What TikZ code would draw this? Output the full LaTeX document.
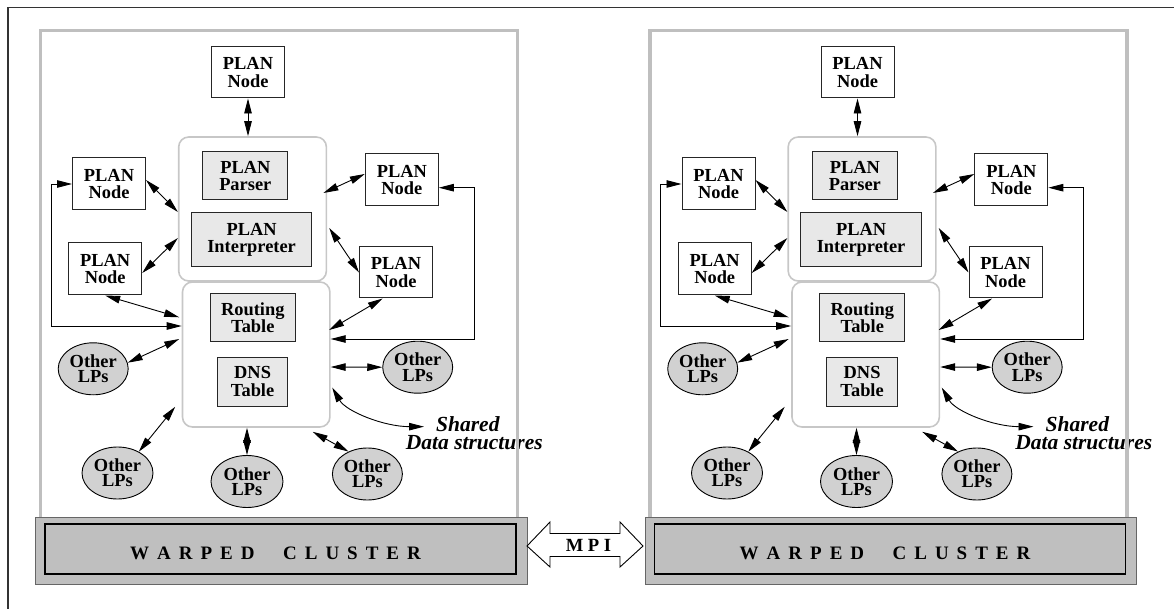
\documentclass[tikz,border=0pt]{standalone}
\usepackage{fontspec}
\setmainfont{Liberation Serif}
\usetikzlibrary{arrows.meta,shapes.geometric}

% fonts used by the different kinds of labels
\newcommand\nodefont{\fontsize{18.4}{17.3}\selectfont\bfseries}
\newcommand\lpfont{\fontsize{18.4}{15.4}\selectfont\bfseries}
\newcommand\sdfont{\fontsize{21.5}{21.5}\selectfont\bfseries\itshape}
\newcommand\wfont{\fontsize{19}{19}\selectfont\bfseries}
\newcommand\mpifont{\fontsize{18.6}{18.6}\selectfont\bfseries}
% letter-spaced cluster title
\newcommand\wcl{W\kern8pt A\kern8pt R\kern8pt P\kern8pt E\kern8pt D\kern28.5pt
  C\kern8pt L\kern8pt U\kern8pt S\kern8pt T\kern8pt E\kern8pt R}

\tikzset{
  plan/.style={draw=black!85, line width=1pt, fill=white, minimum width=73pt,
    minimum height=52pt, inner sep=0pt, align=center, font=\nodefont},
  core/.style={draw=black!85, line width=1pt, fill=black!9, inner sep=0pt,
    align=center, font=\nodefont},
  shared/.style={draw=black!22, line width=1.6pt, rounded corners=10pt, inner sep=0pt},
  lp/.style={ellipse, draw=black, line width=0.9pt, fill=black!18, minimum width=71pt,
    minimum height=52pt, inner sep=0pt, align=center, font=\lpfont},
  link/.style={line width=0.9pt,
    {Triangle[length=15pt,width=7.5pt]}-{Triangle[length=15pt,width=7.5pt]}},
  panelframe/.style={draw=black!25, line width=3.5pt},
  plain/.style={inner sep=0pt, anchor=base west},
}

\begin{document}
\begin{tikzpicture}[x=1pt,y=-1pt]
\useasboundingbox (0,0) rectangle (1174,609);

% outer frame
\draw[line width=1.2pt, black!80] (8,609) -- (8,7.5) -- (1174,7.5);

\foreach \p/\dx in {a/0,b/609.5}{
\begin{scope}[xshift=\dx]
  % shared structures
  \node[shared, minimum width=147.7pt, minimum height=144pt] (ubox\p) at (252.55,209) {};
  \node[shared, minimum width=147.4pt, minimum height=145pt] (lbox\p) at (256.2,354.5) {};
  \node[core, minimum width=85pt, minimum height=48pt] (parser\p) at (245.3,176) {PLAN\\Parser};
  \node[core, minimum width=120.5pt, minimum height=54pt] (interp\p) at (251.6,240) {PLAN\\Interpreter};
  \node[core, minimum width=85pt, minimum height=47pt] (rt\p) at (252.8,317.5) {Routing\\Table};
  \node[core, minimum width=70.4pt, minimum height=49pt] (dns\p) at (252.6,381.5) {DNS\\Table};

  % PLAN nodes
  \node[plan, minimum height=51pt] (top\p) at (248,72.5) {PLAN\\Node};
  \node[plan] (ul\p) at (109,184) {PLAN\\Node};
  \node[plan] (ll\p) at (105.2,269) {PLAN\\Node};
  \node[plan] (ur\p) at (401.8,180) {PLAN\\Node};
  \node[plan, minimum height=51pt] (lr\p) at (396,272.5) {PLAN\\Node};

  % other logical processes
  \node[lp, minimum width=70pt] (lpl\p) at (93.2,368.8) {Other\\LPs};
  \node[lp, minimum width=70pt] (lpr\p) at (417.7,367.2) {Other\\LPs};
  \node[lp] (lpbl\p) at (117.5,473) {Other\\LPs};
  \node[lp, minimum width=72pt] (lpbc\p) at (247,481.5) {Other\\LPs};
  \node[lp, minimum width=70pt] (lpbr\p) at (367.4,474) {Other\\LPs};

  % links to the parser / interpreter
  \draw[link] (top\p.south) -- (top\p.south |- ubox\p.north);
  \draw[link] ([yshift=4]ul\p.east) -- ([yshift=-3]ubox\p.west);
  \draw[link] ([yshift=-4]ll\p.east) -- ([yshift=-29]ubox\p.west);
  \draw[link] ([yshift=6]ur\p.west) -- ([xshift=-3.8,yshift=16]ubox\p.east);
  \draw[link] ([xshift=2,yshift=-19]ubox\p.east) -- (lr\p.west);

  % links to the tables
  \draw[link] (ll\p.south) -- ([xshift=-2.5,yshift=37.2]lbox\p.west);
  \draw[link] ([xshift=-13.3]lr\p.south) -- ([xshift=-1.5,yshift=24.5]lbox\p.east);
  \draw[link] ([yshift=28.5]lbox\p.west) -- ++(-130.3,0) |- (ul\p.west);
  \draw[link] ([yshift=15.5]lbox\p.east) -- ++(143.5,0) |- ([yshift=-7.7]ur\p.east);
  \draw[link] (lpl\p.10) -- ([xshift=-2.5,yshift=15.5]lbox\p.west);
  \draw[link] ([yshift=-12.5]lbox\p.east) -- (lpr\p.west);
  \draw[link] (lpbl\p.45) -- ([xshift=-6.5,yshift=21]lbox\p.south west);
  \draw[link] (lpbc\p.north) -- (lpbc\p.north |- lbox\p.south);
  \draw[link] (lpbr\p.130) -- ([xshift=-18,yshift=-4]lbox\p.south east);

  % shared data structures label
  \node[plain, font=\sdfont] (sh\p) at (436,431.7) {Shared};
  \node[plain, font=\sdfont] (ds\p) at (405.7,449) {Data structures};
  \draw[link] ([xshift=1.5,yshift=-33]lbox\p.east)
    .. controls +(14,24) and +(-40,0) .. ([xshift=-12,yshift=-2.3]sh\p.west);

  % host frame
  \draw[panelframe] (40.5,517) -- (40.5,30.5) -- (517.5,30.5) -- (517.5,517);

  % cluster layer
  \node[draw=black!60, line width=0.8pt, fill=black!25, minimum width=491.5pt,
    minimum height=67pt, inner sep=0pt] (wout\p) at (281.25,550.5) {};
  \node[draw=black, line width=1.1pt, fill=black!25, minimum width=471pt,
    minimum height=50pt, inner sep=0pt] (win\p) at (280.5,549) {};
  \node[plain, font=\wfont] (wtxt\p) at (130,559.3) {\wcl};
\end{scope}
}

% MPI block arrow between the two clusters
\draw[line width=0.9pt, fill=white] (527,546) -- (550,522) -- (550,533.5) -- (620,533.5)
  -- (620,522) -- (643,546) -- (620,567) -- (620,556.5) -- (550,556.5) -- (550,567) -- cycle;
\node[plain, font=\mpifont] (mpi) at (565.7,551.7) {M\kern4.5pt P\kern4.5pt I};
\end{tikzpicture}
\end{document}
